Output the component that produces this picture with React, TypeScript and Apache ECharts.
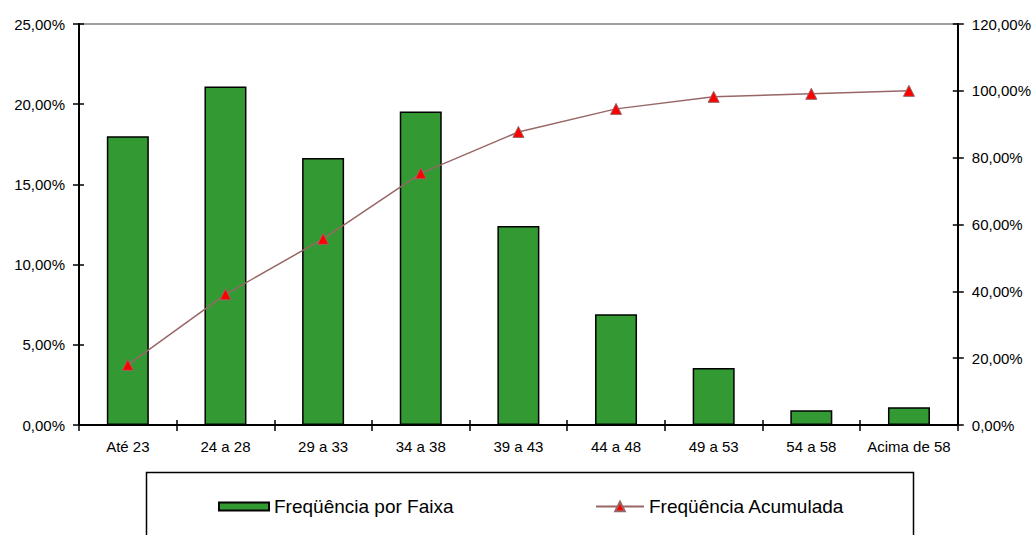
import React, { useEffect, useRef } from "react";
import * as echarts from "echarts";

const categories = ["Até 23", "24 a 28", "29 a 33", "34 a 38", "39 a 43", "44 a 48", "49 a 53", "54 a 58", "Acima de 58"];
const freqPorFaixa = [18.0, 21.1, 16.65, 19.55, 12.4, 6.9, 3.55, 0.92, 1.1];
const freqAcumulada = [18.0, 39.1, 55.7, 75.3, 87.7, 94.6, 98.2, 99.1, 100.0];
const barName = "Freqüência por Faixa";
const lineName = "Freqüência Acumulada";

const FONT = "'Liberation Sans', Arial, sans-serif";
const fmt = (v: number) => v.toFixed(2).replace(".", ",") + "%";

export default function App() {
  const ref = useRef<HTMLDivElement>(null);
  useEffect(() => {
    if (!ref.current) return;
    const chart = echarts.init(ref.current, undefined, { renderer: "svg" });
    const axisText = { color: "#000", fontFamily: FONT, fontSize: 15 };
    const tickOut = { show: true, inside: false, length: 6, lineStyle: { color: "#000", width: 1.5 } };
    const tickIn = { show: true, inside: true, length: 5, lineStyle: { color: "#000", width: 1.5 } };
    chart.setOption({
      animation: false,
      backgroundColor: "#fff",
      grid: {
        left: 79,
        right: 75,
        top: 24,
        bottom: 110,
        show: true,
        borderColor: "#808080",
        borderWidth: 1.5,
        backgroundColor: "transparent",
      },
      xAxis: [
        {
          type: "category",
          data: categories,
          boundaryGap: true,
          axisLine: { show: true, lineStyle: { color: "#000", width: 2 } },
          axisTick: tickOut,
          axisLabel: { ...axisText, margin: 14, interval: 0 },
          splitLine: { show: false },
        },
        {
          type: "category",
          data: categories,
          position: "bottom",
          boundaryGap: true,
          axisLine: { show: false },
          axisTick: tickIn,
          axisLabel: { show: false },
          splitLine: { show: false },
        },
      ],
      yAxis: [
        {
          type: "value",
          min: 0,
          max: 25,
          interval: 5,
          position: "left",
          axisLine: { show: true, lineStyle: { color: "#000", width: 2 } },
          axisTick: tickOut,
          axisLabel: { ...axisText, margin: 14, formatter: fmt },
          splitLine: { show: false },
        },
        {
          type: "value",
          min: 0,
          max: 120,
          interval: 20,
          position: "right",
          axisLine: { show: true, lineStyle: { color: "#000", width: 2 } },
          axisTick: tickOut,
          axisLabel: { ...axisText, margin: 14, formatter: fmt },
          splitLine: { show: false },
        },
        {
          type: "value",
          min: 0,
          max: 25,
          interval: 5,
          position: "left",
          axisLine: { show: false },
          axisTick: tickIn,
          axisLabel: { show: false },
          splitLine: { show: false },
        },
        {
          type: "value",
          min: 0,
          max: 120,
          interval: 20,
          position: "right",
          axisLine: { show: false },
          axisTick: tickIn,
          axisLabel: { show: false },
          splitLine: { show: false },
        },
      ],
      legend: [
        {
          data: [{ name: barName, icon: "rect" }],
          left: 218,
          top: 497,
          padding: 0,
          itemWidth: 50,
          itemHeight: 8,
          textStyle: { color: "#000", fontFamily: FONT, fontSize: 19 },
        },
        {
          data: [lineName],
          left: 595,
          top: 497,
          padding: 0,
          itemWidth: 48,
          itemHeight: 12,
          textStyle: { color: "#000", fontFamily: FONT, fontSize: 19 },
        },
      ],
      graphic: [
        {
          type: "rect",
          shape: { x: 146.5, y: 472.5, width: 767, height: 80 },
          style: { fill: "none", stroke: "#000", lineWidth: 1.5 },
          silent: true,
        },
      ],
      series: [
        {
          name: barName,
          type: "bar",
          xAxisIndex: 0,
          yAxisIndex: 0,
          data: freqPorFaixa,
          barWidth: 42,
          itemStyle: { color: "#339933", borderColor: "#000", borderWidth: 1.5 },
        },
        {
          name: lineName,
          type: "line",
          xAxisIndex: 0,
          yAxisIndex: 1,
          data: freqAcumulada,
          symbol: "triangle",
          symbolSize: 11,
          lineStyle: { color: "#996666", width: 1.5 },
          itemStyle: { color: "#ff0000", borderColor: "#996666", borderWidth: 1 },
        },
      ],
    });
    return () => chart.dispose();
  }, []);
  return (
    <div
      ref={ref}
      style={{ position: "absolute", left: 0, top: 0, width: 1034, height: 535, background: "#fff" }}
    />
  );
}
